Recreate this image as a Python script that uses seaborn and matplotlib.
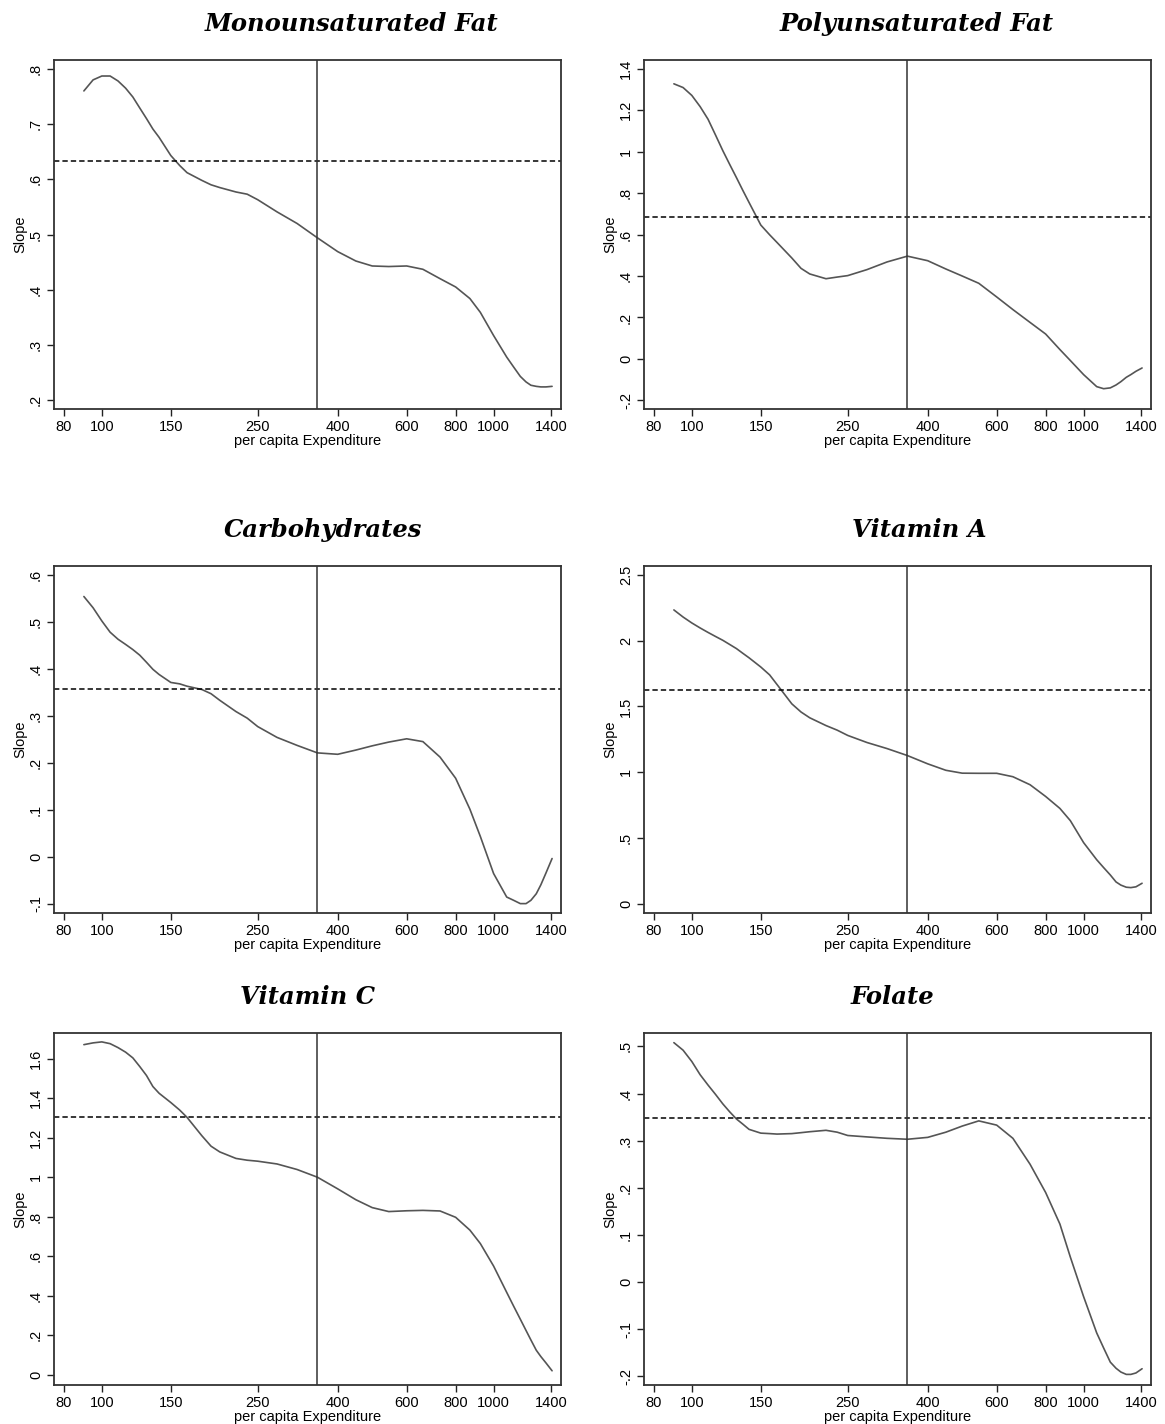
import numpy as np
import pandas as pd
import matplotlib
matplotlib.use("Agg")
import matplotlib.pyplot as plt
import seaborn as sns

# Per capita expenditure grid at which the slopes were evaluated
expenditure = [90, 95, 100, 105, 110, 115, 120, 125, 130, 135, 140, 150, 158, 165,
               180, 190, 200, 220, 235, 250, 280, 315, 355, 400, 445, 490, 540,
               600, 660, 730, 800, 870, 925, 1000, 1080, 1125, 1170, 1210, 1245,
               1285, 1320, 1360, 1410]

mono_fat = [.760, .780, .787, .787, .778, .765, .749, .729, .710, .691, .676, .643,
            .625, .612, .598, .590, .585, .577, .573, .563, .541, .520, .494, .469,
            .452, .443, .442, .443, .437, .420, .405, .384, .359, .317, .278, .260,
            .243, .233, .227, .225, .224, .224, .225]
poly_fat = [1.328, 1.31, 1.272, 1.218, 1.157, 1.080, 1.005, .938, .875, .813, .755,
            .646, .599, .562, .487, .437, .410, .387, .395, .402, .431, .468, .496,
            .474, .434, .400, .365, .299, .238, .176, .120, .045, -.008, -.076,
            -.134, -.144, -.140, -.126, -.110, -.089, -.076, -.060, -.044]
carbs = [.554, .530, .502, .478, .463, .452, .441, .429, .414, .399, .388, .371,
         .368, .363, .356, .347, .333, .309, .295, .277, .254, .237, .221, .218,
         .227, .236, .244, .251, .245, .212, .167, .101, .043, -.036, -.086, -.093,
         -.100, -.100, -.093, -.079, -.060, -.035, -.004]
vit_a = [2.234, 2.18, 2.135, 2.097, 2.063, 2.032, 2.003, 1.971, 1.94, 1.904, 1.87,
         1.80, 1.740, 1.667, 1.52, 1.458, 1.414, 1.355, 1.32, 1.28, 1.226, 1.180,
         1.127, 1.064, 1.015, .993, .992, .992, .966, .905, .816, .725, .632, .465,
         .335, .275, .219, .166, .142, .126, .123, .129, .156]
vit_c = [1.671, 1.680, 1.685, 1.676, 1.656, 1.633, 1.604, 1.560, 1.515, 1.459,
         1.425, 1.378, 1.340, 1.303, 1.210, 1.157, 1.128, 1.095, 1.086, 1.081,
         1.067, 1.039, 1.000, .941, .886, .846, .826, .830, .832, .829, .797, .732,
         .664, .55, .417, .347, .281, .224, .176, .124, .092, .060, .020]
folate = [.508, .492, .468, .440, .418, .398, .378, .361, .346, .335, .324, .316,
          .315, .314, .315, .317, .319, .322, .318, .311, .308, .305, .303, .307,
          .318, .331, .342, .333, .305, .250, .190, .123, .053, -.031, -.108, -.140,
          -.170, -.183, -.191, -.196, -.196, -.193, -.184]

titles = ["Monounsaturated Fat", "Polyunsaturated Fat", "Carbohydrates",
          "Vitamin A", "Vitamin C", "Folate"]
series = [mono_fat, poly_fat, carbs, vit_a, vit_c, folate]

# Average slope (dashed) and median expenditure (vertical line)
avg_slope = [.633, .683, .358, 1.624, 1.304, .3475]
median_exp = 355

x_ticks = [80, 100, 150, 250, 400, 600, 800, 1000, 1400]
x_tick_labels = ["80", "100", "150", "250", "400", "600", "800", "1000", "1400"]

y_ticks = [
    [.2, .3, .4, .5, .6, .7, .8],
    [-.2, 0, .2, .4, .6, .8, 1, 1.2, 1.4],
    [-.1, 0, .1, .2, .3, .4, .5, .6],
    [0, .5, 1, 1.5, 2, 2.5],
    [0, .2, .4, .6, .8, 1, 1.2, 1.4, 1.6],
    [-.2, -.1, 0, .1, .2, .3, .4, .5],
]
y_tick_labels = [
    [".2", ".3", ".4", ".5", ".6", ".7", ".8"],
    ["-.2", "0", ".2", ".4", ".6", ".8", "1", "1.2", "1.4"],
    ["-.1", "0", ".1", ".2", ".3", ".4", ".5", ".6"],
    ["0", ".5", "1", "1.5", "2", "2.5"],
    ["0", ".2", ".4", ".6", ".8", "1", "1.2", "1.4", "1.6"],
    ["-.2", "-.1", "0", ".1", ".2", ".3", ".4", ".5"],
]
y_limits = [(.184, .816), (-.242, 1.443), (-.120, .619),
            (-.07, 2.568), (-.052, 1.730), (-.2185, .5285)]

sns.set_style("white")
plt.rcParams["font.family"] = ["Liberation Sans", "DejaVu Sans"]
plt.rcParams["text.color"] = "black"
plt.rcParams["axes.labelcolor"] = "black"
plt.rcParams["xtick.color"] = "black"
plt.rcParams["ytick.color"] = "black"

W, H = 1165, 1424
fig = plt.figure(figsize=(W / 100, H / 100), dpi=100)

col_left = [54, 644]
col_width = 507
row_top = [60, 566, 1033]
row_bottom = [409, 913, 1385]
# horizontal centre of each panel title, in pixels
title_center = [352, 917, 323, 919, 307, 892]

for i, (title, vals) in enumerate(zip(titles, series)):
    r, c = divmod(i, 2)
    left = col_left[c] / W
    bottom = 1 - row_bottom[r] / H
    height = (row_bottom[r] - row_top[r]) / H
    ax = fig.add_axes([left, bottom, col_width / W, height])

    df = pd.DataFrame({"expenditure": expenditure, "slope": vals})
    sns.lineplot(data=df, x="expenditure", y="slope", ax=ax,
                 color="#555555", linewidth=1.2)
    ax.axhline(avg_slope[i], color="black", linewidth=1.1, linestyle=(0, (3.5, 2)))
    ax.axvline(median_exp, color="#333333", linewidth=1.1)

    ax.set_xscale("log")
    ax.set_xlim(75.5, 1486)
    ax.set_ylim(*y_limits[i])
    ax.xaxis.set_minor_locator(matplotlib.ticker.NullLocator())
    ax.set_xticks(x_ticks)
    ax.set_xticklabels(x_tick_labels, fontsize=10.5)
    ax.set_yticks(y_ticks[i])
    ax.set_yticklabels(y_tick_labels[i], fontsize=10.5, rotation=90, va="center")
    ax.tick_params(axis="both", direction="out", length=5, width=1,
                   color="#222222", pad=3, left=True, bottom=True)
    ax.set_xlabel("per capita Expenditure", fontsize=10.5, labelpad=0)
    ax.set_ylabel("Slope", fontsize=10.5, labelpad=1)
    for s in ax.spines.values():
        s.set_color("#333333")
        s.set_linewidth(1.3)
    tx = (title_center[i] - col_left[c]) / col_width
    ax.set_title(title, fontsize=17.5, fontweight="bold", fontstyle="italic",
                 family="DejaVu Serif", x=tx, pad=21)

fig.savefig("out.png", dpi=100, facecolor="white")
